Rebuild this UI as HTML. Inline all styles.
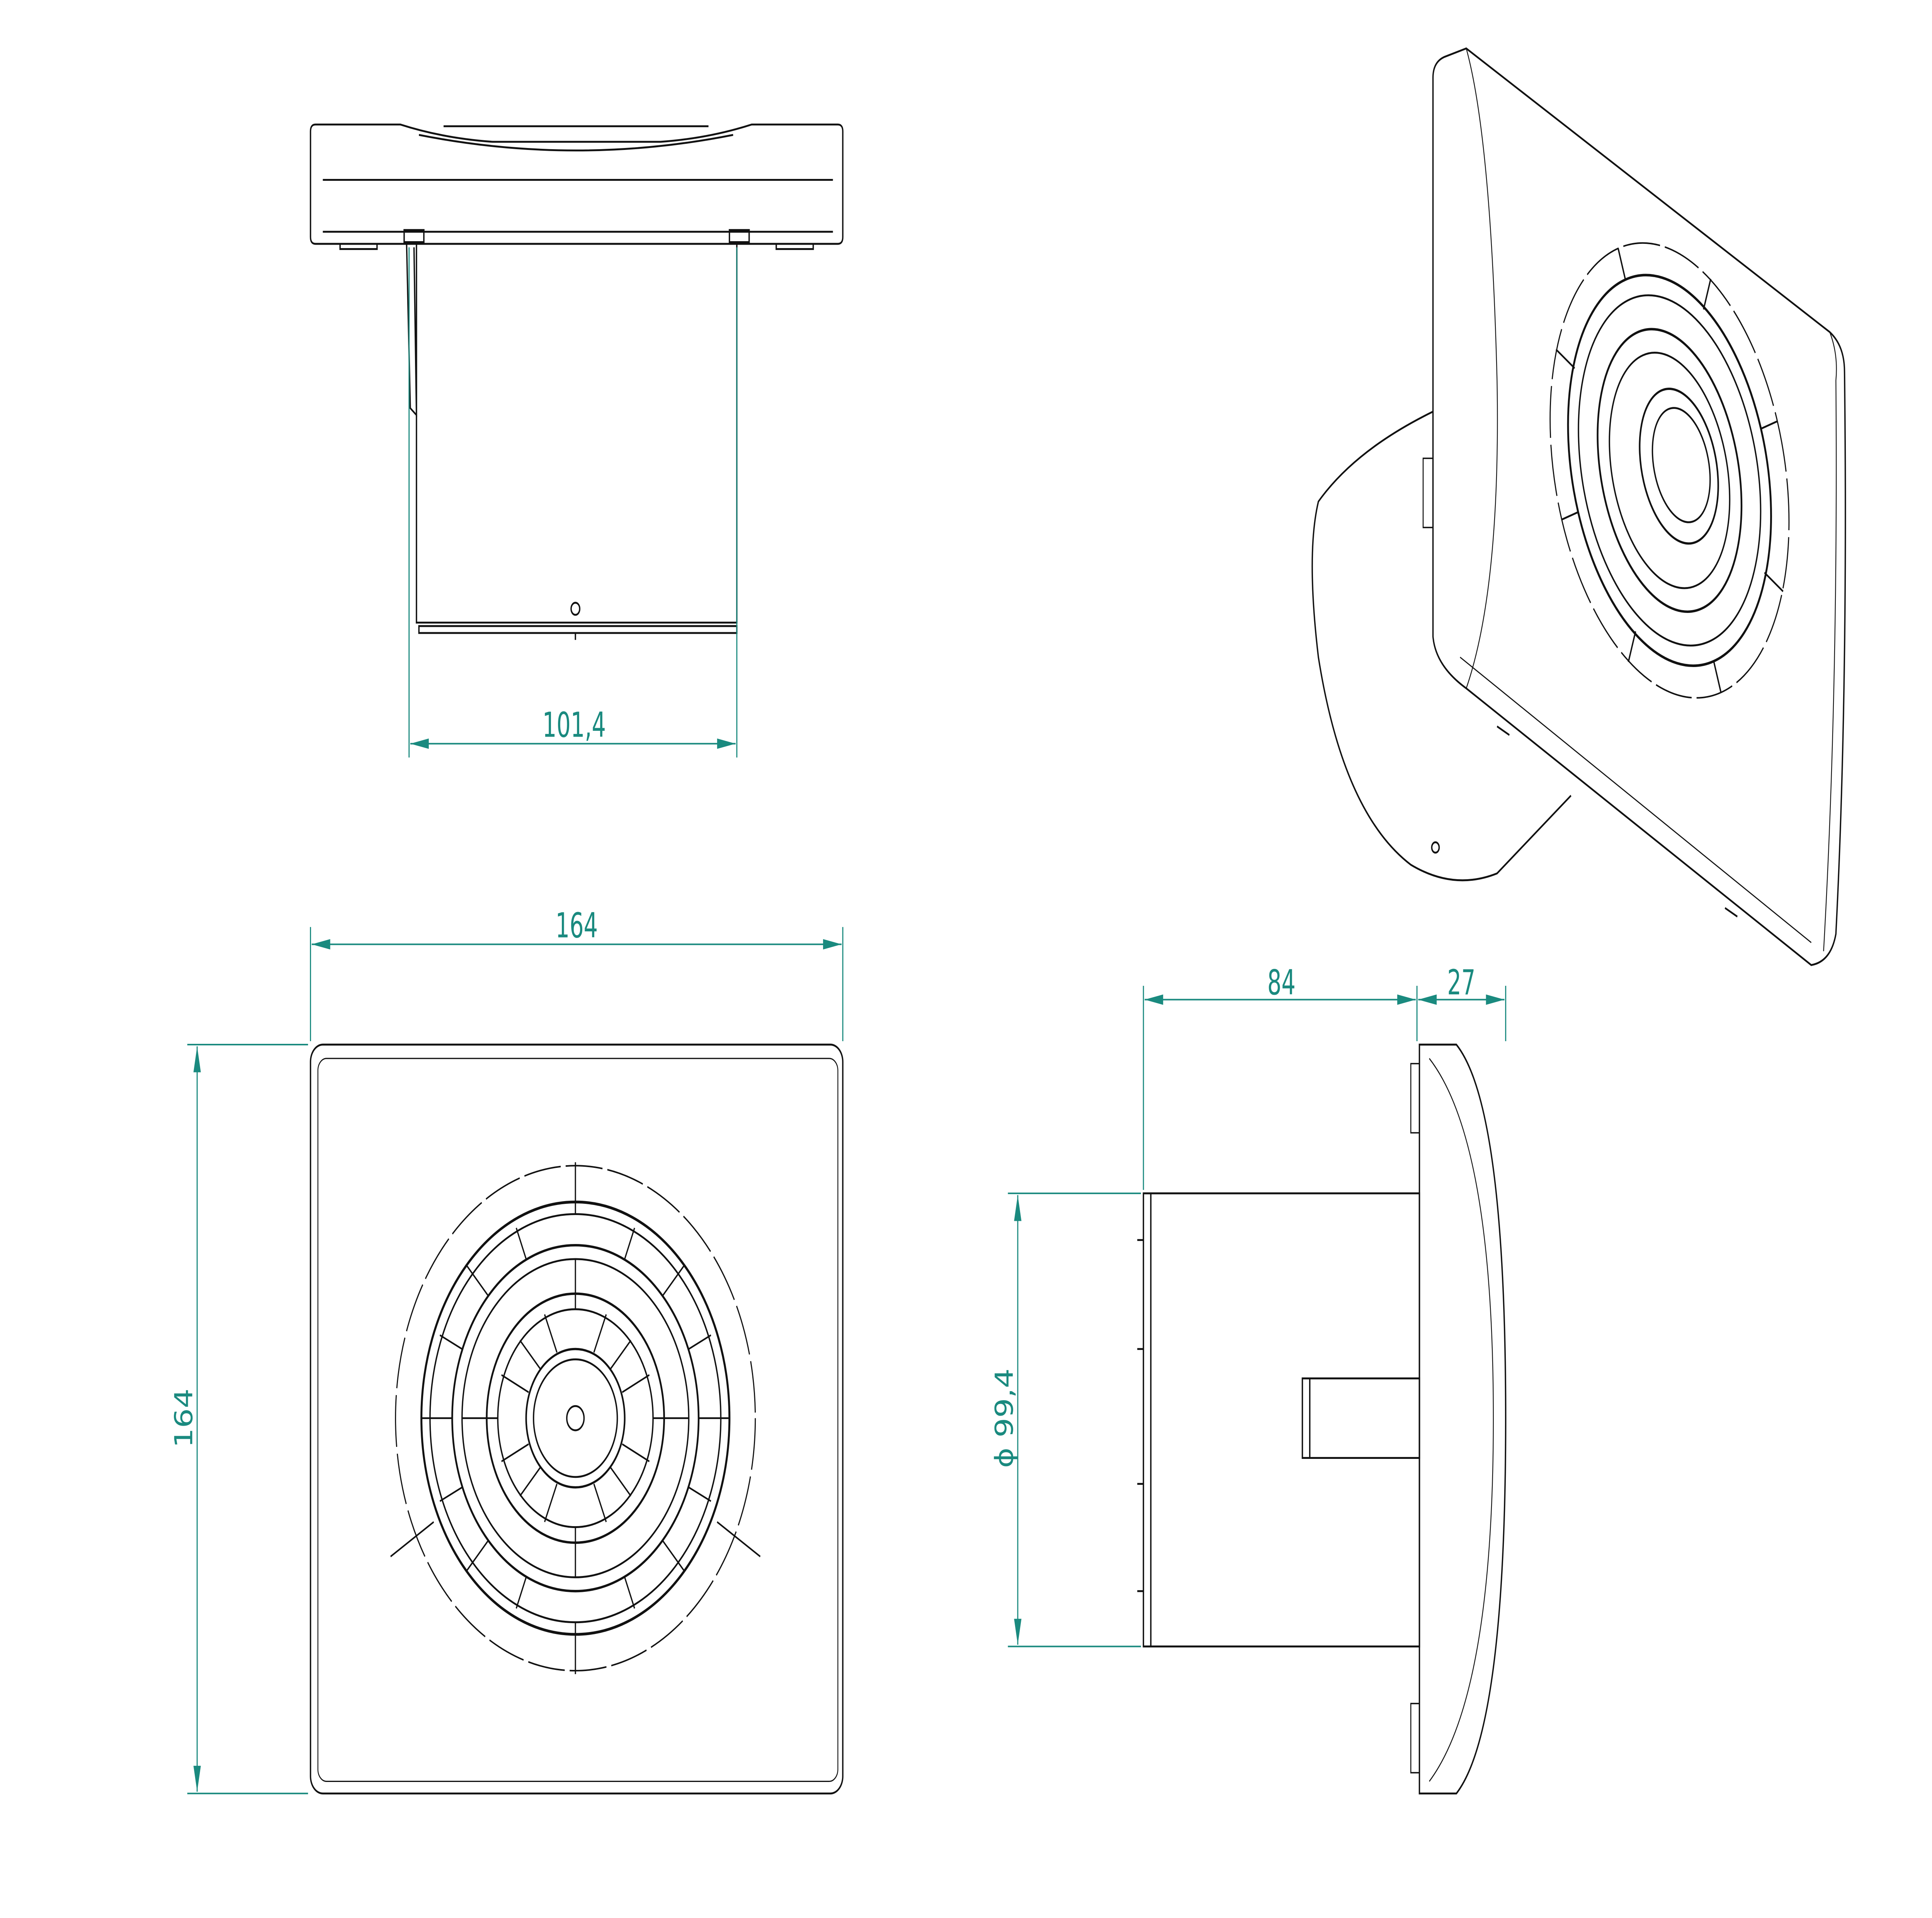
<!DOCTYPE html>
<html><head><meta charset="utf-8">
<style>
html,body{margin:0;padding:0;background:#fff;width:100%;height:100%;overflow:hidden}
svg{display:block;position:fixed;left:0;top:0;width:100vw;height:100vh}
text{font-family:"DejaVu Sans Condensed","Liberation Sans Narrow","Liberation Sans",sans-serif;fill:#1a8a7f}
</style></head><body>
<svg viewBox="0 0 1568 1109" preserveAspectRatio="none" xmlns="http://www.w3.org/2000/svg">
<defs>
<marker id="a" viewBox="0 0 10 4" refX="10" refY="2" markerWidth="18" markerHeight="6" orient="auto-start-reverse" markerUnits="userSpaceOnUse"><path d="M0 0L10 2L0 4Z" fill="#1a8a7f"/></marker>
</defs>
<rect width="1568" height="1109" fill="#fff"/>
<g fill="none" stroke="#111" stroke-width="1.1">
<path d="M256 72 H325 Q360 80 400 82 H536 Q575 80 610 72 H680 Q684 72 684 76 V137 Q684 141 680 141 H256 Q252 141 252 137 V76 Q252 72 256 72Z"/>
<path d="M262 104 H676 M262 134 H676"/>
<path d="M340 78 Q468 96 595 78"/>
<path d="M360 73 H575"/>
<rect x="328" y="133" width="16" height="7"/><rect x="592" y="133" width="16" height="7"/>
<path d="M276 141 v3 h30 v-3 M630 141 v3 h30 v-3"/>
<path d="M338 141 V360 H598 V141"/>
<path d="M340 362 H598 V366 H340Z"/>
<path d="M330 141 L333 236 L338 240 L336 143"/>
<circle cx="467" cy="352" r="3.5"/><path d="M467 366 v4"/>
<rect x="252" y="604" width="432" height="433" rx="10"/>
<rect x="258" y="612" width="422" height="418" rx="7" stroke-width="0.7"/>
<g transform="translate(467 820)">
<circle r="146" stroke-dasharray="30 4" stroke-width="0.9"/>
<circle r="125" stroke-width="1.6"/>
<circle r="118"/>
<circle r="100" stroke-width="1.4"/>
<circle r="92"/>
<circle r="72" stroke-width="1.4"/>
<circle r="63"/>
<circle r="40" stroke-width="1.3"/>
<circle r="34"/>
<circle r="7"/>
<g stroke-width="1">
<path d="M0 -148V-118 M0 118V148 M-125 0H-100 M100 0H125"/>
<path d="M-88 -88L-71 -71 M88 -88L71 -71 M-88 88L-71 71 M88 88L71 71 M-115 60L-150 80 M115 60L150 80"/>
<path d="M-48 -110L-40 -92 M48 -110L40 -92 M-110 -48L-92 -40 M110 -48L92 -40 M-110 48L-92 40 M110 48L92 40 M-48 110L-40 92 M48 110L40 92"/>
<path d="M0 -92V-63 M0 63V92 M-92 0H-63 M63 0H92 M-45 -45L-28 -28 M45 -45L28 -28 M-45 45L-28 28 M45 45L28 28"/>
<path d="M-25 -60L-15 -38 M25 -60L15 -38 M-60 -25L-38 -15 M60 -25L38 -15 M-60 25L-38 15 M60 25L38 15 M-25 60L-15 38 M25 60L15 38"/>
</g>
</g>
<path d="M1152 604 H1182 Q1222 640 1222 820 Q1222 1000 1182 1037 H1152Z"/>
<path d="M1160 612 Q1212 660 1212 820 Q1212 980 1160 1030" stroke-width="0.7"/>
<path d="M1145 615 h7 v40 h-7z M1145 985 h7 v40 h-7z" stroke-width="0.8"/>
<path d="M928 690 H1152 V952 H928Z"/>
<path d="M934 690 V952"/>
<path d="M1057 797 H1152 V843 H1057Z M1063 797 V843"/>
<path d="M923 717h5M923 780h5M923 858h5M923 920h5"/>
<path d="M1172 33 L1190 28 L1485 192 Q1497 200 1497 215 Q1500 400 1490 540 Q1486 556 1470 558 L1190 398 Q1165 385 1163 368 V45 Q1163 36 1172 33Z"/>
<path d="M1190 28 Q1210 80 1215 220 Q1218 340 1190 398" stroke-width="0.7"/>
<path d="M1485 192 Q1492 205 1490 220 Q1492 400 1480 550" stroke-width="0.7"/>
<path d="M1185 380 L1470 545" stroke-width="0.7"/>
<path d="M1163 238 Q1100 260 1070 290 Q1060 320 1070 380 Q1090 470 1145 500 Q1180 515 1215 505 L1275 460"/>
<path d="M1155 265 h8 v40 h-8z" stroke-width="0.8"/>
<circle cx="1165" cy="490" r="3"/>
<path d="M1215 420 l10 5 M1400 525 l10 5"/>
<g transform="translate(1355 272) rotate(-18)">
<ellipse rx="92" ry="135" stroke-dasharray="30 4" stroke-width="0.9"/>
<ellipse rx="78" ry="116" stroke-width="1.5"/>
<ellipse rx="70" ry="104"/>
<ellipse rx="55" ry="84" stroke-width="1.4"/>
<ellipse rx="46" ry="70"/>
<ellipse cx="8" rx="30" ry="46" stroke-width="1.3"/>
<ellipse cx="10" rx="22" ry="34"/>
<path d="M0 -116V-135 M0 116V135 M-78 0H-92 M78 0H92 M-55 -80L-66 -95 M55 80L66 95 M55 -80L66 -95 M-55 80L-66 95"/>
</g>
</g>
<g stroke="#1a8a7f" stroke-width="0.9" fill="none">
<path d="M332 143 V438 M598 143 V438"/>
<path d="M333 430 H597" marker-start="url(#a)" marker-end="url(#a)"/>
<path d="M252 536 V602 M684 536 V602"/>
<path d="M253 546 H683" marker-start="url(#a)" marker-end="url(#a)"/>
<path d="M152 604 H250 M152 1037 H250"/>
<path d="M160 605 V1036" marker-start="url(#a)" marker-end="url(#a)"/>
<path d="M928 570 V688 M1150 570 V602 M1222 570 V602"/>
<path d="M929 578 H1149" marker-start="url(#a)" marker-end="url(#a)"/>
<path d="M1151 578 H1221" marker-start="url(#a)" marker-end="url(#a)"/>
<path d="M818 690 H926 M818 952 H926"/>
<path d="M826 691 V951" marker-start="url(#a)" marker-end="url(#a)"/>
</g>
<g font-size="20">
<text x="466" y="426" text-anchor="middle">101,4</text>
<text x="468" y="542" text-anchor="middle">164</text>
<text x="1040" y="575" text-anchor="middle">84</text>
<text x="1186" y="575" text-anchor="middle">27</text>
<text transform="translate(156 820) rotate(-90)" text-anchor="middle">164</text>
<text transform="translate(822 820) rotate(-90)" text-anchor="middle">ϕ  99,4</text>
</g>
</svg>
</body></html>
